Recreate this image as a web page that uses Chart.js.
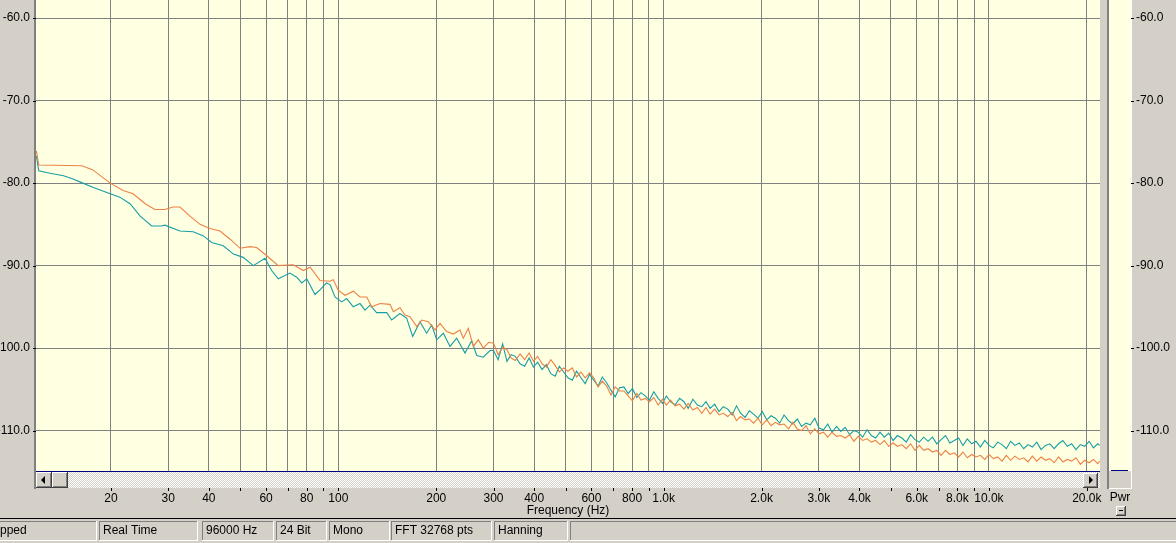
<!DOCTYPE html>
<html>
<head>
<meta charset="utf-8">
<script src="https://cdn.jsdelivr.net/npm/chart.js@4.4.0/dist/chart.umd.min.js"></script>
<style>
html, body { margin: 0; padding: 0; background: #d4d0c8; overflow: hidden; }
canvas { display: block; }
</style>
</head>
<body>
<canvas id="myChart" width="1176" height="543"></canvas>
<script>
// grid / tick positions (Hz) and their labels
const gridHz = [20, 30, 40, 50, 60, 70, 80, 90, 100, 200, 300, 400, 500, 600, 700, 800, 900,
  1000, 2000, 3000, 4000, 5000, 6000, 7000, 8000, 9000, 10000, 20000];
const tickLabels = ['20', '30', '40', '', '60', '', '80', '', '100', '200', '300', '400', '', '600', '', '800', '',
  '1.0k', '2.0k', '3.0k', '4.0k', '', '6.0k', '', '8.0k', '', '10.0k', '20.0k'];
const dbTicks = [-60, -70, -80, -90, -100, -110];

// low frequency part
const tealLowHz = [11.8, 12.0, 13.0, 14.3, 15.3, 16.4, 17.6, 19.9, 21.3, 22.9,
  24.6, 26.7, 28.6, 29.3, 32.6, 35.8, 38.5, 40.8, 44.3, 47.6,
  51.0, 54.8, 59.5, 62.4, 65.4, 71.0, 74.5, 77.2, 80.0, 84.8,
  88.0, 92.0, 94.3, 97.7, 102.4, 106.1, 111.2, 116.6, 120.8, 125.2,
  131.2, 140.9, 145.9, 154.7, 162.3, 169.3, 178.3, 186.9, 193.7, 200.7,
  210.3, 220.5, 231.2, 245.2, 257.1, 266.4, 279.1, 292.7];
const tealLowDb = [-76.7, -78.5, -78.8, -79.1, -79.5, -80.0, -80.5, -81.3, -81.7, -82.5,
  -84.0, -85.2, -85.2, -85.1, -85.8, -85.9, -86.4, -87.2, -87.6, -88.6,
  -89.0, -90.0, -89.1, -90.6, -91.6, -90.9, -91.4, -92.1, -91.6, -93.5,
  -92.9, -92.1, -92.3, -93.8, -94.4, -94.0, -95.0, -94.6, -95.4, -94.8,
  -95.7, -95.7, -96.6, -95.8, -96.4, -98.6, -96.8, -98.2, -97.2, -99.0,
  -98.2, -99.8, -98.8, -100.6, -99.1, -100.9, -101.1, -100.3];

const orangeLowHz = [11.8, 12.0, 16.3, 17.6, 19.9, 21.8, 23.4, 25.5, 27.3, 29.3,
  31.1, 32.6, 35.0, 37.6, 40.3, 43.3, 46.5, 49.9, 53.5, 56.1,
  60.3, 65.4, 72.7, 78.1, 81.9, 87.9, 94.3, 96.5, 100, 104.9,
  111.2, 116.6, 122.3, 126.7, 134.4, 144.2, 147.6, 154.7, 160.3, 166.1,
  174.2, 180.5, 189.1, 198.3, 205.4, 215.4, 225.7, 236.7, 242.3, 251.0,
  260.0, 269.4, 279.1, 290.0];
const orangeLowDb = [-76.1, -77.8, -77.9, -78.4, -80.0, -80.9, -81.3, -82.5, -83.2, -83.2,
  -82.9, -82.9, -84.0, -85.0, -85.5, -85.8, -86.8, -87.9, -87.7, -87.8,
  -88.8, -90.0, -89.9, -90.6, -90.2, -91.8, -91.9, -91.7, -93.0, -93.6,
  -93.1, -93.8, -93.8, -95.0, -94.6, -94.7, -95.6, -95.1, -96.0, -96.2,
  -97.4, -96.6, -96.8, -97.8, -97.0, -98.0, -98.3, -97.8, -98.8, -97.6,
  -99.8, -99.0, -100.0, -99.3];

// noisy upper part, shared frequency grid
const highHz = [300, 310, 320, 330, 340, 350, 362, 374, 386, 398,
  410, 423, 436, 450, 464, 478, 493, 508, 524, 540,
  557, 574, 592, 610, 629, 648, 668, 689, 710, 732,
  755, 778, 802, 827, 852, 878, 905, 933, 962, 992,
  1020, 1050, 1085, 1120, 1155, 1190, 1230, 1270, 1310, 1350,
  1390, 1435, 1480, 1525, 1575, 1625, 1675, 1725, 1780, 1835,
  1890, 1950, 2010, 2075, 2140, 2205, 2275, 2345, 2420, 2495,
  2575, 2655, 2740, 2825, 2915, 3005, 3100, 3195, 3295, 3400,
  3505, 3615, 3730, 3845, 3965, 4090, 4220, 4350, 4485, 4625,
  4770, 4920, 5075, 5235, 5400, 5570, 5745, 5925, 6110, 6300,
  6500, 6705, 6915, 7130, 7355, 7585, 7825, 8070, 8320, 8580,
  8850, 9130, 9415, 9710, 10010, 10320, 10640, 10970, 11310, 11660,
  12020, 12400, 12790, 13190, 13600, 14030, 14470, 14920, 15390, 15870,
  16370, 16880, 17410, 17960, 18520, 19100, 19700, 20320, 20950, 21600,
  21900];
const tealHighDb = [-100.3, -101.4, -99.5, -101.6, -100.8, -101.0, -101.9, -102.2, -101.2, -102.3,
  -101.7, -102.6, -102.0, -103.1, -103.4, -102.2, -102.9, -103.6, -103.9, -102.8,
  -103.6, -104.3, -103.2, -103.9, -104.6, -103.5, -104.2, -105.1, -105.9, -104.8,
  -104.7, -105.5, -104.9, -106.0, -105.4, -105.8, -106.3, -105.3, -106.1, -106.7,
  -105.8, -106.5, -106.9, -106.1, -106.5, -107.3, -106.2, -106.9, -107.1, -106.5,
  -107.3, -106.8, -107.7, -107.1, -107.4, -108.1, -107.0, -107.9, -108.4, -107.6,
  -108.0, -108.5, -107.7, -108.7, -108.2, -108.5, -109.1, -108.1, -108.8, -109.2,
  -108.6, -109.5, -109.1, -109.3, -108.5, -109.7, -109.9, -109.2, -110.2, -109.5,
  -110.1, -109.6, -110.5, -110.0, -110.2, -110.8, -109.9, -110.6, -110.9, -110.2,
  -110.8, -110.3, -111.2, -110.6, -110.9, -111.4, -110.5, -111.1, -111.4, -110.8,
  -111.3, -110.8, -111.6, -111.1, -110.6, -111.5, -111.2, -110.9, -111.8, -111.0,
  -111.6, -111.3, -112.0, -111.2, -111.8, -112.1, -111.4, -111.7, -112.2, -111.3,
  -111.8, -111.5, -112.2, -111.7, -112.0, -111.4, -112.3, -111.8, -111.6, -112.2,
  -111.6, -111.2, -111.9, -111.6, -112.3, -111.7, -111.9, -111.3, -112.1, -111.6,
  -111.8];
const orangeHighDb = [-99.4, -100.8, -99.9, -100.2, -101.2, -101.5, -100.7, -101.4, -100.6, -101.6,
  -101.0, -101.9, -102.3, -101.4, -102.1, -102.9, -102.4, -102.8, -102.4, -103.5,
  -102.9, -103.6, -103.0, -103.6, -104.7, -104.0, -104.6, -105.7, -104.7, -105.2,
  -105.2, -105.8, -106.4, -105.5, -106.3, -106.1, -106.5, -106.0, -106.9, -106.2,
  -106.9, -106.3, -107.0, -106.8, -107.4, -106.7, -107.5, -107.2, -107.9, -107.2,
  -108.0, -107.4, -108.1, -107.9, -108.3, -107.8, -108.8, -108.3, -108.7, -108.6,
  -109.1, -108.5, -109.3, -108.7, -109.4, -109.0, -109.3, -109.2, -109.8, -109.0,
  -109.8, -110.0, -109.4, -110.4, -109.8, -110.4, -110.2, -110.8, -110.2, -110.7,
  -110.6, -110.9, -110.5, -111.3, -110.7, -111.2, -111.0, -111.4, -111.2, -111.7,
  -111.2, -111.9, -111.5, -111.9, -111.7, -112.2, -111.6, -112.4, -111.8, -112.4,
  -112.2, -112.6, -112.4, -113.0, -112.4, -112.9, -112.7, -113.2, -112.6, -113.3,
  -112.9, -113.2, -113.0, -113.5, -112.9, -113.4, -113.2, -113.7, -113.0, -113.6,
  -113.1, -113.5, -113.3, -113.8, -113.1, -113.7, -113.2, -113.6, -113.4, -113.9,
  -113.2, -113.8, -113.5, -113.7, -113.3, -114.1, -113.6, -113.9, -113.5, -114.0,
  -113.7];

const statusPanels = [[-4, 96, 'pped'], [99, 197, 'Real Time'], [202, 273, '96000 Hz'], [276, 326, '24 Bit'],
  [329, 389, 'Mono'], [391, 491, 'FFT 32768 pts'], [494, 567, 'Hanning'], [570, 1180, '']];

const FACE = '#d4d0c8';
const FONT = "12px 'Liberation Sans', Arial, sans-serif";

function pts(hz, db) {
  return hz.map((f, i) => ({x: f, y: db[i]}));
}

function bevel(ctx, x, y, w, h) {
  ctx.fillStyle = FACE; ctx.fillRect(x, y, w, h);
  ctx.fillStyle = '#ffffff'; ctx.fillRect(x, y, w - 1, 1); ctx.fillRect(x, y, 1, h - 1);
  ctx.fillStyle = '#404040'; ctx.fillRect(x, y + h - 1, w, 1); ctx.fillRect(x + w - 1, y, 1, h);
  ctx.fillStyle = '#808080'; ctx.fillRect(x + 1, y + h - 2, w - 2, 1); ctx.fillRect(x + w - 2, y + 1, 1, h - 2);
}

function tri(ctx, p) {
  ctx.fillStyle = '#000';
  ctx.beginPath();
  ctx.moveTo(p[0], p[1]); ctx.lineTo(p[2], p[3]); ctx.lineTo(p[4], p[5]);
  ctx.closePath(); ctx.fill();
}

const chrome = {
  id: 'chrome',
  beforeDraw(chart) {
    const ctx = chart.ctx, a = chart.chartArea;
    ctx.save();
    ctx.fillStyle = FACE;
    ctx.fillRect(0, 0, chart.width, chart.height);
    ctx.fillStyle = '#ffffe1';
    ctx.fillRect(a.left, a.top, a.right - a.left, a.bottom - a.top);
    ctx.restore();
  },
  afterDraw(chart) {
    const ctx = chart.ctx, a = chart.chartArea;
    const xs = chart.scales.x, ys = chart.scales.y;
    ctx.save();

    // left frame
    ctx.fillStyle = '#808080';
    ctx.fillRect(a.left - 2, 0, 2, a.bottom + 18);
    ctx.fillStyle = '#000';
    for (const v of dbTicks) {
      const y = Math.round(ys.getPixelForValue(v));
      ctx.fillRect(a.left - 3, y, 3, 1);
    }

    // scrollbar under the plot
    const pc = document.createElement('canvas');
    pc.width = 2; pc.height = 2;
    const pctx = pc.getContext('2d');
    pctx.fillStyle = FACE; pctx.fillRect(0, 0, 2, 2);
    pctx.fillStyle = '#fff'; pctx.fillRect(0, 0, 1, 1); pctx.fillRect(1, 1, 1, 1);
    ctx.fillStyle = ctx.createPattern(pc, 'repeat');
    ctx.fillRect(a.left, a.bottom + 1, a.right - a.left, 16);
    ctx.fillStyle = '#000080';
    ctx.fillRect(a.left, a.bottom, a.right - a.left, 1);
    bevel(ctx, a.left, a.bottom + 1, 16, 16);
    tri(ctx, [a.left + 5, a.bottom + 9, a.left + 9, a.bottom + 5, a.left + 9, a.bottom + 13]);
    bevel(ctx, a.left + 16, a.bottom + 1, 16, 16);
    bevel(ctx, a.right - 17, a.bottom + 2, 15, 15);
    tri(ctx, [a.right - 7, a.bottom + 9, a.right - 11, a.bottom + 5, a.right - 11, a.bottom + 13]);

    // tick marks below the scrollbar
    ctx.fillStyle = '#000';
    for (const v of gridHz) {
      const x = Math.round(xs.getPixelForValue(v));
      ctx.fillRect(x, a.bottom + 17, 1, 3);
    }

    // Pwr meter strip on the right
    ctx.fillStyle = '#808080';
    ctx.fillRect(a.right + 7, 0, 2, a.bottom + 18);
    ctx.fillStyle = '#ffffe1';
    ctx.fillRect(a.right + 9, 0, 22, a.bottom);
    ctx.fillStyle = '#000080';
    ctx.fillRect(a.right + 11, a.bottom - 1, 17, 1);
    ctx.fillStyle = '#ffffff';
    ctx.fillRect(a.right + 31, 0, 1, a.bottom + 18);
    ctx.fillRect(a.right + 9, a.bottom + 17, 23, 1);
    ctx.fillStyle = '#000';
    for (const v of dbTicks) {
      const y = Math.round(ys.getPixelForValue(v));
      ctx.fillRect(a.right + 31, y, 3, 1);
    }
    ctx.font = FONT;
    ctx.textBaseline = 'middle';
    ctx.textAlign = 'center';
    ctx.fillText('Pwr', a.right + 20, 498);
    bevel(ctx, a.right + 16, 506, 10, 10);
    ctx.fillStyle = '#000';
    ctx.fillRect(a.right + 19, 510, 4, 1);

    // status bar
    ctx.fillStyle = '#000';
    ctx.fillRect(0, 518, chart.width, 1);
    ctx.textAlign = 'left';
    for (const [x0, x1, label] of statusPanels) {
      ctx.fillStyle = '#808080';
      ctx.fillRect(x0, 521, x1 - x0, 1);
      ctx.fillRect(x0, 521, 1, 19);
      ctx.fillStyle = '#ffffff';
      ctx.fillRect(x0, 540, x1 - x0, 1);
      ctx.fillRect(x1, 521, 1, 20);
      ctx.fillStyle = '#000';
      ctx.fillText(label, x0 === -4 ? 0 : x0 + 4, 531);
    }
    ctx.restore();
  }
};

Chart.defaults.font.family = "'Liberation Sans', Arial, sans-serif";
Chart.defaults.font.size = 12;
Chart.defaults.color = '#000';

const yMin = -114.9;
const yMax = -57.8;

const config = {
  type: 'line',
  data: {
    datasets: [{
      label: 'Left',
      data: pts(orangeLowHz.concat(highHz), orangeLowDb.concat(orangeHighDb)),
      borderColor: '#ec8146',
      borderWidth: 1.1,
      pointRadius: 0,
      tension: 0
    }, {
      label: 'Right',
      data: pts(tealLowHz.concat(highHz), tealLowDb.concat(tealHighDb)),
      borderColor: '#169ea6',
      borderWidth: 1.1,
      pointRadius: 0,
      tension: 0
    }]
  },
  options: {
    responsive: false,
    animation: false,
    devicePixelRatio: 1,
    layout: { padding: 0 },
    plugins: { legend: { display: false }, tooltip: { enabled: false } },
    scales: {
      x: {
        type: 'logarithmic',
        position: 'bottom',
        min: 11.77,
        max: 21950,
        afterBuildTicks: s => { s.ticks = gridHz.map(v => ({value: v})); },
        afterFit: s => { s.height = 72; s.paddingLeft = 0; s.paddingRight = 0; },
        grid: { color: '#808080', lineWidth: 1, drawTicks: false },
        border: { display: false },
        ticks: { autoSkip: false, maxRotation: 0, minRotation: 0, padding: 20,
          callback: (v, i) => tickLabels[i] },
        title: { display: true, text: 'Frequency (Hz)', padding: { top: 0, bottom: 25 } }
      },
      y: {
        position: 'left',
        min: yMin,
        max: yMax,
        afterBuildTicks: s => { s.ticks = dbTicks.map(v => ({value: v})); },
        afterFit: s => { s.width = 36; s.paddingTop = 0; s.paddingBottom = 0; },
        grid: { color: '#808080', lineWidth: 1, drawTicks: false },
        border: { display: false },
        ticks: { padding: 6, callback: v => v.toFixed(1) }
      },
      y2: {
        position: 'right',
        min: yMin,
        max: yMax,
        afterBuildTicks: s => { s.ticks = dbTicks.map(v => ({value: v})); },
        afterFit: s => { s.width = 76; s.paddingTop = 0; s.paddingBottom = 0; },
        grid: { drawOnChartArea: false, drawTicks: false },
        border: { display: false },
        ticks: { padding: 36, callback: v => v.toFixed(1) }
      }
    }
  },
  plugins: [chrome]
};

const myChart = new Chart(document.getElementById('myChart'), config);
</script>
</body>
</html>
